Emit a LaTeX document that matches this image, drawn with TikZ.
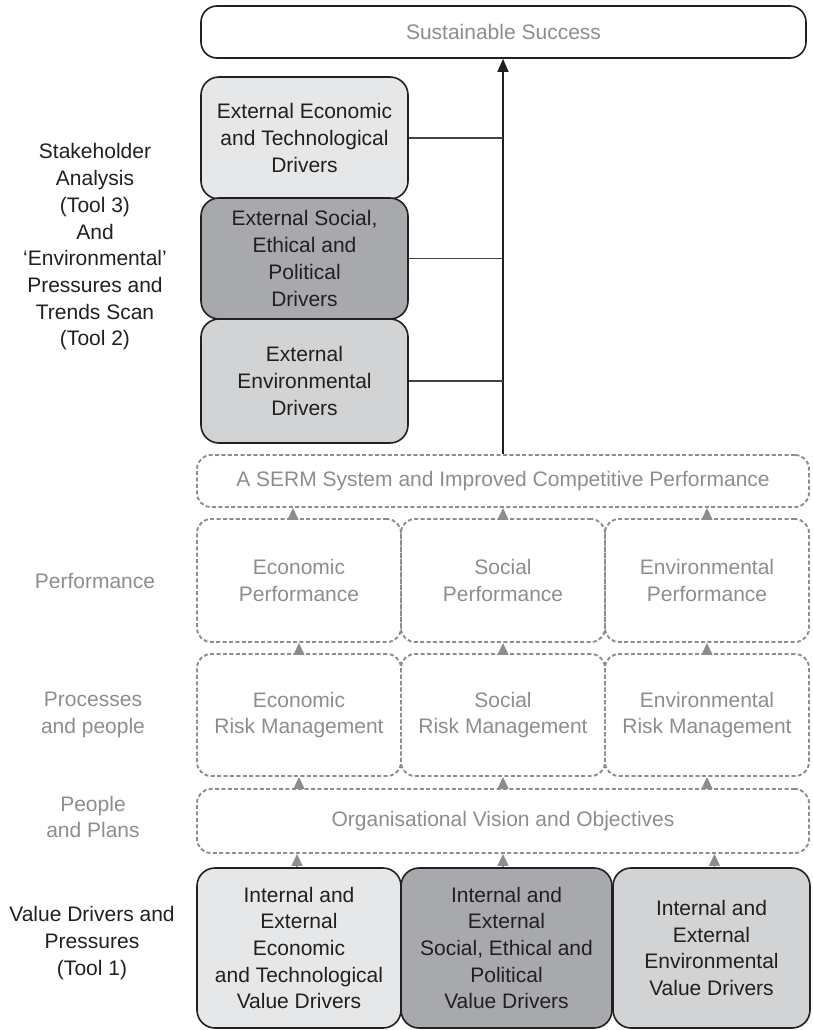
\documentclass[tikz,border=0pt]{standalone}
\usepackage{fontspec}
\setmainfont{Liberation Sans}
\usetikzlibrary{arrows.meta}
\definecolor{ink}{HTML}{231F20}
\definecolor{lgray}{HTML}{8C8D90}
\definecolor{fillA}{HTML}{E6E7E8}
\definecolor{fillB}{HTML}{A7A9AC}
\definecolor{fillC}{HTML}{D1D3D4}
\begin{document}
\begin{tikzpicture}[x=1pt,y=-1pt,
  txt/.style={font=\fontsize{21}{26.7}\selectfont, align=center, inner sep=0pt},
  solidbox/.style={txt, draw=ink, line width=1.6pt, rounded corners=18pt, text=ink},
  dashbox/.style={txt, draw=lgray, line width=1.9pt, dash pattern=on 4pt off 2.4pt, rounded corners=14pt, text=lgray},
  graylabel/.style={txt, text=lgray},
  inklabel/.style={txt, text=ink},
  garrow/.style={draw=lgray, line width=1.3pt, solid, -{Triangle[length=12pt,width=11pt]}},
  mainarrow/.style={draw=ink, line width=1.4pt, -{Triangle[length=13pt,width=11pt]}},
  hline/.style={draw=ink!85, line width=1.4pt}
]
\useasboundingbox (0,0) rectangle (812,1030);

% top
\node[solidbox, fill=white, text=lgray, rounded corners=16pt, minimum width=605pt, minimum height=52pt] (succ) at (503.5,32) {Sustainable Success};

\node[solidbox, fill=fillA, minimum width=207pt, minimum height=122pt] (e1) at (304.5,138) {External Economic\\and Technological\\Drivers};
\node[solidbox, fill=fillB, minimum width=207pt, minimum height=121pt] (e2) at (304.5,258.5) {External Social,\\Ethical and\\Political\\Drivers};
\node[solidbox, fill=fillC, minimum width=207pt, minimum height=124pt] (e3) at (304.5,381) {External\\Environmental\\Drivers};

% dashed layers
\node[dashbox, minimum width=612pt, minimum height=52pt] (serm) at (503,481) {A SERM System and Improved Competitive Performance};

\node[dashbox, minimum width=204pt, minimum height=123pt] (p1) at (299,580.5) {Economic\\Performance};
\node[dashbox, minimum width=204pt, minimum height=123pt] (p2) at (503,580.5) {Social\\Performance};
\node[dashbox, minimum width=204pt, minimum height=123pt] (p3) at (707,580.5) {Environmental\\Performance};

\node[dashbox, minimum width=204pt, minimum height=122pt] (r1) at (299,715) {Economic\\Risk Management};
\node[dashbox, minimum width=204pt, minimum height=122pt] (r2) at (503,715) {Social\\Risk Management};
\node[dashbox, minimum width=204pt, minimum height=122pt] (r3) at (707,715) {Environmental\\Risk Management};

\node[dashbox, minimum width=612pt, minimum height=64pt] (org) at (503,821) {Organisational Vision and Objectives};

% bottom drivers
\node[solidbox, fill=fillA, minimum width=204pt, minimum height=160pt] (v1) at (299,948) {Internal and\\External\\Economic\\and Technological\\Value Drivers};
\node[solidbox, fill=fillB, minimum width=211pt, minimum height=160pt] (v2) at (506.5,948) {Internal and\\External\\Social, Ethical and\\Political\\Value Drivers};
\node[solidbox, fill=fillC, minimum width=197pt, minimum height=160pt] (v3) at (711.5,948) {Internal and\\External\\Environmental\\Value Drivers};

% left labels
\node[inklabel] (l1) at (95,247) {Stakeholder\\Analysis\\(Tool 3)\\And\\‘Environmental’\\Pressures and\\Trends Scan\\(Tool 2)};
\node[graylabel] (l2) at (95,581) {Performance};
\node[graylabel] (l3) at (93,715) {Processes\\and people};
\node[graylabel] (l4) at (93,817) {People\\and Plans};
\node[inklabel] (l5) at (92,943) {Value Drivers and\\Pressures\\(Tool 1)};

% connectors
\draw[mainarrow] (serm.north) -- (serm.north |- succ.south);
\draw[hline] (e1.east) -- (e1.east -| serm.north);
\draw[hline] (e2.east) -- (e2.east -| serm.north);
\draw[hline] (e3.east) -- (e3.east -| serm.north);

\draw[garrow] ([xshift=-6pt]p1.north) -- ([xshift=-6pt]p1.north |- serm.south);
\draw[garrow] (p2.north) -- (p2.north |- serm.south);
\draw[garrow] (p3.north) -- (p3.north |- serm.south);

\draw[garrow] (r1.north) -- (p1.south);
\draw[garrow] (r2.north) -- (p2.south);
\draw[garrow] (r3.north) -- (p3.south);

\draw[garrow] (r1.south |- org.north) -- (r1.south);
\draw[garrow] (r2.south |- org.north) -- (r2.south);
\draw[garrow] (r3.south |- org.north) -- (r3.south);

\draw[garrow] ([xshift=-2pt]v1.north) -- ([xshift=-2pt]v1.north |- org.south);
\draw[garrow] (v2.north -| org.center) -- (org.south);
\draw[garrow] ([xshift=3pt]v3.north) -- ([xshift=3pt]v3.north |- org.south);
\end{tikzpicture}
\end{document}
